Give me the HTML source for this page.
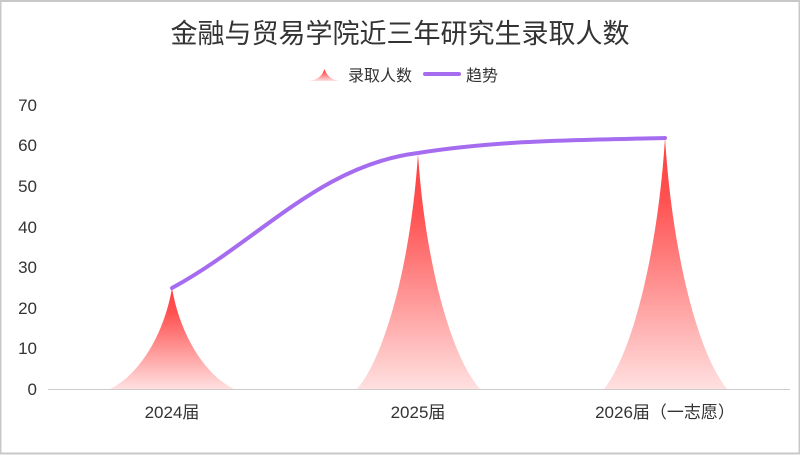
<!DOCTYPE html>
<html><head><meta charset="utf-8"><style>
html,body{margin:0;padding:0;background:#fff}
svg{display:block}
text{font-family:"Liberation Sans","Noto Sans CJK SC",sans-serif}
</style></head><body>
<svg width="800" height="455" viewBox="0 0 800 455">
<defs>
<linearGradient id="g" x1="0" y1="0" x2="0" y2="1">
<stop offset="0" stop-color="#ff4040"/>
<stop offset="0.25" stop-color="#ff5252"/>
<stop offset="1" stop-color="#ffe0e0"/>
</linearGradient>
</defs>
<rect x="0.5" y="1" width="799" height="452.5" fill="#fff" stroke="#c8c8c8" stroke-width="2"/>
<text x="400" y="43" font-size="27" fill="#333" text-anchor="middle">金融与贸易学院近三年研究生录取人数</text>
<path d="M307,81 L342,81 C332,81 327,76 324.5,69 C322,76 317,81 307,81Z" fill="url(#g)"/>
<text x="348" y="81" font-size="16" fill="#333">录取人数</text>
<line x1="425" y1="74" x2="459" y2="74" stroke="#a66cf0" stroke-width="4" stroke-linecap="round"/>
<text x="466" y="81" font-size="16" fill="#333">趋势</text>
<g font-size="17" fill="#333" text-anchor="end">
<text x="37" y="395">0</text><text x="37" y="354">10</text><text x="37" y="314">20</text><text x="37" y="273">30</text><text x="37" y="233">40</text><text x="37" y="192">50</text><text x="37" y="151">60</text><text x="37" y="111">70</text>
</g>
<line x1="48" y1="389.5" x2="790" y2="389.5" stroke="#ccc" stroke-width="1"/>
<g font-size="17" fill="#333" text-anchor="middle">
<text x="172" y="418">2024届</text><text x="418" y="418">2025届</text><text x="665" y="418">2026届（一志愿）</text>
</g>
<path d="M110,389 L234,389 C205,375 180,335 172,288 C164,335 139,375 110,389Z" fill="url(#g)"/>
<path d="M357,389 L480,389 C450,355 425,260 418,154 C411,260 386,355 357,389Z" fill="url(#g)"/>
<path d="M604,389 L727,389 C697,352 672,250 665,138 C658,250 633,352 604,389Z" fill="url(#g)"/>
<path d="M172,288 C260,240 320,165 418,153 C500,140 580,140 665,138" fill="none" stroke="#a66cf0" stroke-width="4" stroke-linecap="round"/>
</svg>
</body></html>
